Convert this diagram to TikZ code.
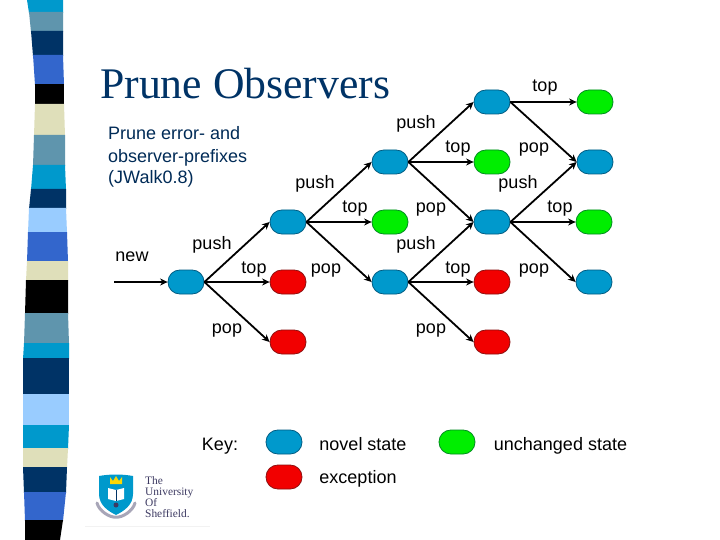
\documentclass[tikz,border=0pt]{standalone}
\usepackage{fontspec}
\setmainfont{Liberation Serif}
\newfontfamily\arialf{Liberation Sans}
\usetikzlibrary{arrows.meta}
\definecolor{cteal}{HTML}{0099CC}
\definecolor{cgrey}{HTML}{5F95AD}
\definecolor{cnavy}{HTML}{003366}
\definecolor{cblue}{HTML}{3366CC}
\definecolor{cbeige}{HTML}{DFDFBA}
\definecolor{clight}{HTML}{99CCFF}
\definecolor{cblk}{HTML}{000000}
\definecolor{novelc}{HTML}{0099CC}
\definecolor{novele}{HTML}{005A80}
\definecolor{unchc}{HTML}{00EE00}
\definecolor{unche}{HTML}{008A20}
\definecolor{excc}{HTML}{F20000}
\definecolor{exce}{HTML}{8A1010}
\definecolor{logotxt}{HTML}{3D3A62}
\tikzset{
  x=1pt,y=-1pt,
  stnode/.style={rounded corners=11.8pt,minimum width=36pt,minimum height=24pt,inner sep=0pt,line width=0.8pt},
  novel/.style={stnode,fill=novelc,draw=novele},
  unch/.style={stnode,fill=unchc,draw=unche},
  exc/.style={stnode,fill=excc,draw=exce},
  edge/.style={line width=1.8pt,draw=black,-{Stealth[length=7.5pt,width=7pt]}},
  lab/.style={anchor=base,inner sep=0pt,font=\arialf\fontsize{18}{18}\selectfont,text=black},
  logol/.style={anchor=base west,inner sep=0pt,font=\fontsize{11.4}{11.4}\selectfont,text=logotxt},
}
\begin{document}
\begin{tikzpicture}
\useasboundingbox (0,0) rectangle (720,540);
\fill[white] (0,0) rectangle (720,540);
% decorative strip
\foreach \col/\ya/\la/\ra/\yb/\lb/\rb in {
 cteal/0/27/63/13/29/63,
 cgrey/12/29/63/32/31/63,
 cnavy/31/31/63/56/33/63,
 cblue/55/33/63/85/35/64,
 cblk/84/35/64/104/35/64,
 cbeige/104/35/64/136/34/65,
 cgrey/135/34/65/166/33/65,
 cteal/165/33/65/190/31/66,
 cnavy/189/31/66/209/29/66,
 clight/208/29/66/233/28/67,
 cblue/232/28/67/262/27/68,
 cbeige/261/27/68/281/26/68,
 cblk/280/26/68/314/25/68,
 cgrey/313/25/68/344/24/69,
 cteal/343/24/69/359/23/69,
 cnavy/358/23/69/395/23/69,
 clight/394/23/69/426/23/69,
 cteal/425/23/69/449/23/68,
 cbeige/448/23/68/468/23/67,
 cnavy/467/23/67/493/24/66,
 cblue/492/24/66/521/25/63,
 cblk/520/25/63/540/25/60}{
  \fill[\col] (\la,\ya) -- (\ra,\ya) -- (\rb,\yb) -- (\lb,\yb) -- cycle;
}
% title and text
\node[anchor=base west,inner sep=0pt,font=\fontsize{43.7}{44}\selectfont,text=cnavy] (title) at (100,98.5) {Prune Observers};
\node[anchor=base west,inner sep=0pt,font=\arialf\fontsize{18}{18}\selectfont,text=cnavy!85!black] (t1) at (108,140) {Prune error- and};
\node[anchor=base west,inner sep=0pt,font=\arialf\fontsize{18}{18}\selectfont,text=cnavy!85!black] (t2) at (108,163) {observer-prefixes};
\node[anchor=base west,inner sep=0pt,font=\arialf\fontsize{18}{18}\selectfont,text=cnavy!85!black] (t3) at (108,184) {(JWalk0.8)};
% states
\coordinate (start) at (114,282);
\node[novel] (root) at (186,282) {};
\node[novel] (a) at (288,222) {};
\node[exc] (ra) at (288,282) {};
\node[exc] (rb) at (288,342) {};
\node[novel] (b) at (390,162) {};
\node[unch] (ga) at (390,222) {};
\node[novel] (c) at (390,282) {};
\node[novel] (d) at (492,102) {};
\node[unch] (gb) at (492,162) {};
\node[novel] (e) at (492,222) {};
\node[exc] (rc) at (492,282) {};
\node[exc] (rd) at (492,342) {};
\node[unch] (gc) at (595,102) {};
\node[novel] (f) at (595,162) {};
\node[unch] (gd) at (594,222) {};
\node[novel] (h) at (594,282) {};
% connectors
\draw[edge] (start) -- (root.west);
\foreach \p/\q in {root/a,root/ra,root/rb,a/b,a/ga,a/c,b/d,b/gb,b/e,d/gc,d/f,e/f,e/gd,e/h,c/e,c/rc,c/rd}
  \draw[edge] (\p.east) -- (\q.west);
% labels
\node[lab] (l1) at (545,92) {top};
\node[lab] (l2) at (416,128.5) {push};
\node[lab] (l3) at (458,153) {top};
\node[lab] (l4) at (534,153) {pop};
\node[lab] (l5) at (315,189) {push};
\node[lab] (l6) at (518,189) {push};
\node[lab] (l7) at (355,213) {top};
\node[lab] (l8) at (431,213) {pop};
\node[lab] (l9) at (560,213) {top};
\node[lab] (l10) at (132,261) {new};
\node[lab] (l11) at (212,249) {push};
\node[lab] (l12) at (416,249) {push};
\node[lab] (l13) at (254,273) {top};
\node[lab] (l14) at (326,273) {pop};
\node[lab] (l15) at (458,273) {top};
\node[lab] (l16) at (534,273) {pop};
\node[lab] (l17) at (227,333) {pop};
\node[lab] (l18) at (431,333) {pop};
% key
\node[lab] (k0) at (220,450) {Key:};
\node[novel] (k1) at (284,442) {};
\node[lab] (k2) at (363,450) {novel state};
\node[unch] (k3) at (457,442) {};
\node[lab] (k4) at (560.5,450) {unchanged state};
\node[exc] (k5) at (284,477) {};
\node[lab] (k6) at (358,483) {exception};
% logo
\fill[cteal] (99,476) .. controls (110,474) and (122,474) .. (133,476) -- (133,494) .. controls (133,505) and (124,511) .. (116,515) .. controls (108,511) and (99,505) .. (99,494) -- cycle;
\fill[white] (108,488) -- (116,490) -- (124,488) -- (124,499) -- (116,501) -- (108,499) -- cycle;
\draw[cnavy,line width=0.5pt] (116,490) -- (116,501);
\fill[yellow!75!orange] (110,484) -- (110,477) -- (113,481) -- (116,476) -- (119,481) -- (122,477) -- (122,484) -- cycle;
\draw[logotxt!45!white,line width=3pt,line cap=round] (97,503) .. controls (99,511) and (110,518) .. (116,517) .. controls (122,518) and (133,511) .. (135,503);
\fill[logotxt] (116,505) circle (2.5pt);
\node[logol] (u1) at (145,484) {The};
\node[logol] (u2) at (145,495) {University};
\node[logol] (u3) at (145,506) {Of};
\node[logol] (u4) at (145,517) {Sheffield.};
\draw[black!5,line width=0.6pt] (85,526) -- (210,526);
\end{tikzpicture}
\end{document}
